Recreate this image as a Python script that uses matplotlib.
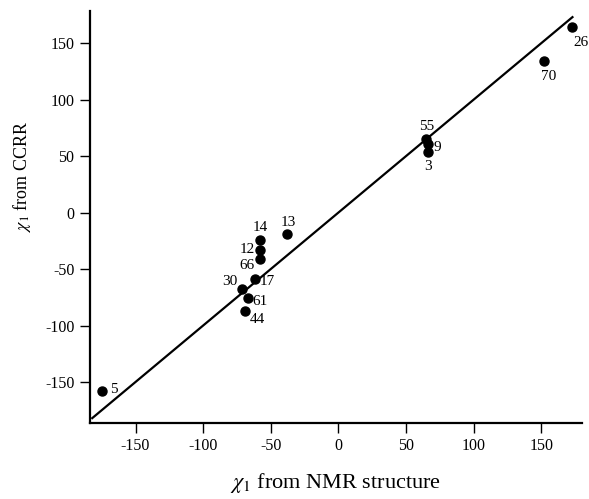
import matplotlib.pyplot as plt

plt.rcParams['font.family'] = ['Liberation Serif', 'DejaVu Serif']
plt.rcParams['mathtext.fontset'] = 'stix'
plt.rcParams['axes.unicode_minus'] = False

# residue numbers and chi1 angles (degrees)
residues = ['26', '70', '55', '9', '3', '13', '14', '12', '66', '17', '30', '61', '44', '5']
chi_nmr = [173, 152, 65, 66, 66, -38, -58, -58, -58, -62, -71, -67, -69, -175]
chi_ccrr = [164, 134, 65, 61, 54, -19, -24, -33, -41, -59, -68, -76, -87, -158]

# label offsets in points (dx, dy)
offsets = {
    '26': (6, -11), '70': (3, -11), '55': (0, 9), '9': (7, -3), '3': (0, -11),
    '13': (1, 8), '14': (0, 9), '12': (-9, 0), '66': (-9, -5), '17': (9, -2),
    '30': (-9, 6), '61': (9, -2), '44': (9, -6), '5': (9, 1),
}

fig = plt.figure(figsize=(5.89, 4.99), dpi=100)
ax = fig.add_axes([0.152, 0.153, 0.836, 0.824])

ax.plot([-182, 173], [-182, 173], color='black', lw=1.6)
ax.plot(chi_nmr, chi_ccrr, 'o', color='black', markersize=6.5)

for r, x, y in zip(residues, chi_nmr, chi_ccrr):
    dx, dy = offsets[r]
    ax.annotate(r, (x, y), xytext=(dx, dy), textcoords='offset points',
                ha='center', va='center', fontsize=11)

ax.set_xlim(-184, 180)
ax.set_ylim(-186, 178)
ax.set_xticks([-150, -100, -50, 0, 50, 100, 150])
ax.set_yticks([-150, -100, -50, 0, 50, 100, 150])
ax.spines['top'].set_visible(False)
ax.spines['right'].set_visible(False)
ax.spines['left'].set_linewidth(1.6)
ax.spines['bottom'].set_linewidth(1.6)
ax.tick_params(direction='out', length=7, width=1, labelsize=11.5, pad=4)

ax.set_xlabel(r'$\chi_1$ from NMR structure', fontsize=16, labelpad=12)
ax.set_ylabel(r'$\chi_1$ from CCRR', fontsize=13)
ax.yaxis.set_label_coords(-0.114, 0.60)

fig.savefig('out.png', dpi=100)
